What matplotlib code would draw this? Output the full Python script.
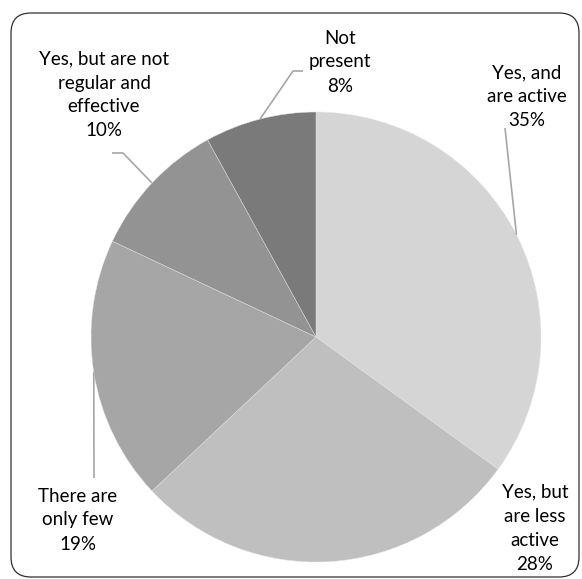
import numpy as np
import matplotlib.pyplot as plt
from matplotlib.patches import FancyBboxPatch

labels = ["Yes, and\nare active", "Yes, but\nare less\nactive", "There are\nonly few",
          "Yes, but are not\nregular and\neffective", "Not\npresent"]
values = [35, 28, 19, 10, 8]
colors = ["#d5d5d5", "#bfbfbf", "#a6a6a6", "#939393", "#7a7a7a"]

W, H = 582, 579
fig = plt.figure(figsize=(W / 100, H / 100), dpi=100)
ax = fig.add_axes([0, 0, 1, 1])
ax.set_xlim(0, W)
ax.set_ylim(0, H)
ax.set_aspect("equal")
ax.axis("off")

# rounded chart frame
frame = FancyBboxPatch((11, 2), 568, 564, boxstyle="round,pad=0,rounding_size=20",
                       fc="white", ec="#303030", lw=0.9, zorder=0)
ax.add_patch(frame)

cx, cy, r = 316, H - 337, 225
wedges, _ = ax.pie(values, colors=colors, startangle=90, counterclock=False,
                   center=(cx, cy), radius=r, frame=True,
                   wedgeprops=dict(edgecolor="#e6e6e6", linewidth=0.3))
ax.set_xlim(0, W)
ax.set_ylim(0, H)
ax.axis("off")

# label text positions (pixel coords, y from top) and leader line bends
label_pos = [(527, 97), (535, 528), (78, 520), (104, 95), (340, 62)]
leaders = [
    [(505, 128)],
    None,
    [(94, 478)],
    [(123, 153), (112, 153)],
    [(293, 71), (303, 71)],
]

for w, lab, v, (tx, ty), lead in zip(wedges, labels, values, label_pos, leaders):
    ax.text(tx, H - ty, f"{lab}\n{v}%", ha="center", va="center",
            fontsize=13.5, family="Lato", color="black", linespacing=1.5)
    if lead is None:
        continue
    mid = np.deg2rad((w.theta1 + w.theta2) / 2)
    pts = [(cx + r * np.cos(mid), cy + r * np.sin(mid))] + [(x, H - y) for x, y in lead]
    xs, ys = zip(*pts)
    ax.plot(xs, ys, color="#a6a6a6", lw=1.2, solid_capstyle="butt")

fig.savefig("out.png", dpi=100)
